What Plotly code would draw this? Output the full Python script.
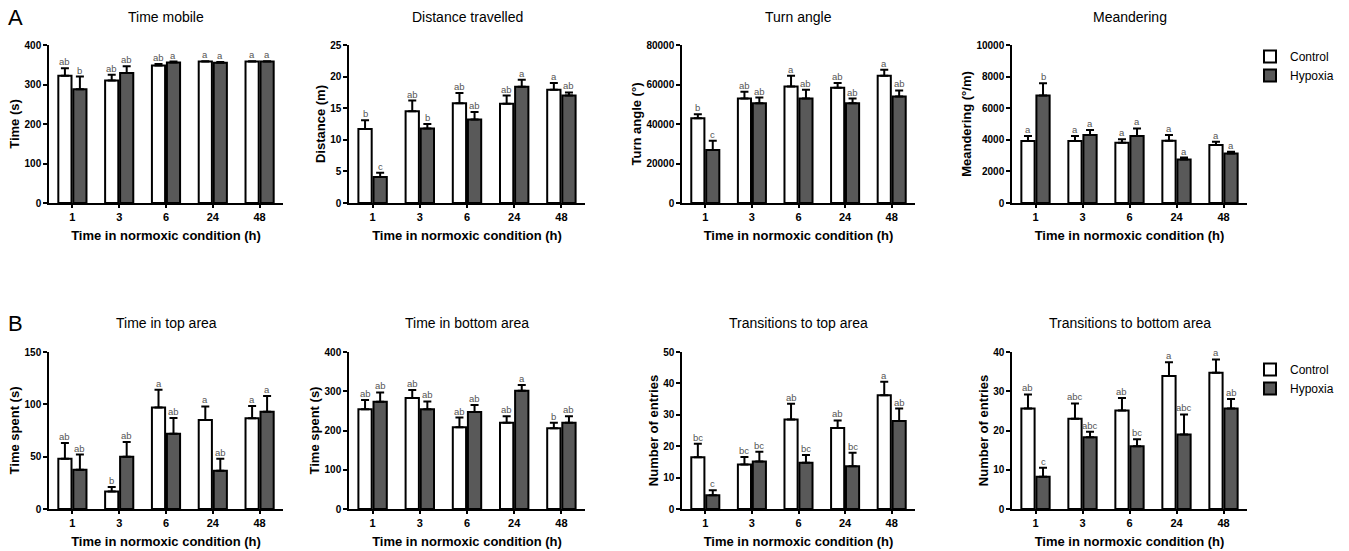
import plotly.graph_objects as go
from plotly.subplots import make_subplots

times = ["1", "3", "6", "24", "48"]
groups = ["Control", "Hypoxia"]

titles = ["Time mobile", "Distance travelled", "Turn angle", "Meandering",
          "Time in top area", "Time in bottom area", "Transitions to top area",
          "Transitions to bottom area"]
ytitles = ["Time (s)", "Distance (m)", "Turn angle (°)", "Meandering (°/m)",
           "Time spent (s)", "Time spent (s)", "Number of entries", "Number of entries"]
ymax = [400, 25, 80000, 10000, 150, 400, 50, 40]
ydtick = [100, 5, 20000, 2000, 50, 100, 10, 10]

# means and SEM (upper error) per panel
mobile_ctrl = [322, 310, 348, 358, 358]
mobile_ctrl_sem = [19, 15, 4, 1, 1]
mobile_hyp = [288, 329, 356, 355, 358]
mobile_hyp_sem = [32, 17, 2, 2, 1]

dist_ctrl = [11.7, 14.5, 15.8, 15.7, 17.9]
dist_ctrl_sem = [1.4, 1.7, 1.6, 1.3, 1.1]
dist_hyp = [4.1, 11.8, 13.2, 18.4, 17.0]
dist_hyp_sem = [0.7, 0.7, 1.2, 1.1, 0.5]

turn_ctrl = [42900, 52900, 59000, 58300, 64400]
turn_ctrl_sem = [2000, 3400, 5400, 2400, 3100]
turn_hyp = [26800, 50500, 52900, 50500, 53900]
turn_hyp_sem = [4700, 2900, 4400, 2400, 3100]

mean_ctrl = [3920, 3920, 3810, 3940, 3670]
mean_ctrl_sem = [320, 320, 220, 360, 210]
mean_hyp = [6800, 4300, 4240, 2750, 3140]
mean_hyp_sem = [780, 320, 480, 130, 100]

top_ctrl = [48, 16.8, 97, 85, 86.8]
top_ctrl_sem = [15, 4.2, 17, 13, 11.7]
top_hyp = [37.5, 50, 72, 36.5, 93]
top_hyp_sem = [14.5, 14, 15, 11.5, 15]

bot_ctrl = [254, 283, 208, 220, 206]
bot_ctrl_sem = [24, 20, 25, 16, 14]
bot_hyp = [273, 254, 247, 301, 220]
bot_hyp_sem = [24, 20, 18, 15, 16]

ttop_ctrl = [16.5, 14.2, 28.5, 25.8, 36.2]
ttop_ctrl_sem = [4.3, 2.4, 5.0, 2.4, 4.3]
ttop_hyp = [4.4, 15.1, 14.7, 13.6, 28.0]
ttop_hyp_sem = [1.6, 3.1, 2.5, 4.3, 4.0]

tbot_ctrl = [25.6, 23.0, 25.1, 33.9, 34.7]
tbot_ctrl_sem = [3.6, 3.9, 3.2, 3.5, 3.4]
tbot_hyp = [8.2, 18.3, 16.0, 19.0, 25.6]
tbot_hyp_sem = [2.3, 1.4, 1.8, 5.1, 2.4]

# significance letters
mobile_ctrl_lbl = ["ab", "ab", "ab", "a", "a"]
mobile_hyp_lbl = ["b", "ab", "a", "a", "a"]
dist_ctrl_lbl = ["b", "ab", "ab", "ab", "a"]
dist_hyp_lbl = ["c", "b", "ab", "a", "ab"]
turn_ctrl_lbl = ["b", "ab", "a", "ab", "a"]
turn_hyp_lbl = ["c", "ab", "ab", "ab", "ab"]
mean_ctrl_lbl = ["a", "a", "a", "a", "a"]
mean_hyp_lbl = ["b", "a", "a", "a", "a"]
top_ctrl_lbl = ["ab", "b", "a", "a", "a"]
top_hyp_lbl = ["ab", "ab", "ab", "ab", "a"]
bot_ctrl_lbl = ["ab", "ab", "ab", "ab", "b"]
bot_hyp_lbl = ["ab", "ab", "ab", "a", "ab"]
ttop_ctrl_lbl = ["bc", "bc", "ab", "ab", "a"]
ttop_hyp_lbl = ["c", "bc", "bc", "bc", "ab"]
tbot_ctrl_lbl = ["ab", "abc", "ab", "a", "a"]
tbot_hyp_lbl = ["c", "abc", "bc", "abc", "ab"]

panels = [
    (mobile_ctrl, mobile_ctrl_sem, mobile_ctrl_lbl, mobile_hyp, mobile_hyp_sem, mobile_hyp_lbl),
    (dist_ctrl, dist_ctrl_sem, dist_ctrl_lbl, dist_hyp, dist_hyp_sem, dist_hyp_lbl),
    (turn_ctrl, turn_ctrl_sem, turn_ctrl_lbl, turn_hyp, turn_hyp_sem, turn_hyp_lbl),
    (mean_ctrl, mean_ctrl_sem, mean_ctrl_lbl, mean_hyp, mean_hyp_sem, mean_hyp_lbl),
    (top_ctrl, top_ctrl_sem, top_ctrl_lbl, top_hyp, top_hyp_sem, top_hyp_lbl),
    (bot_ctrl, bot_ctrl_sem, bot_ctrl_lbl, bot_hyp, bot_hyp_sem, bot_hyp_lbl),
    (ttop_ctrl, ttop_ctrl_sem, ttop_ctrl_lbl, ttop_hyp, ttop_hyp_sem, ttop_hyp_lbl),
    (tbot_ctrl, tbot_ctrl_sem, tbot_ctrl_lbl, tbot_hyp, tbot_hyp_sem, tbot_hyp_lbl),
]

W, H = 1349, 551
FONT = "Liberation Sans, Arial, sans-serif"
fill_colors = ["#ffffff", "#595959"]

xdom_px = [(49, 283), (349, 585), (682, 915), (1012, 1247)]
ydom_px = [(45, 203), (352, 509)]

fig = make_subplots(rows=2, cols=4)
xidx = list(range(len(times)))
BARGAP = 0.36
half = (1 - BARGAP) / 4.0

for p, (c, cs, cl, h, hs, hl) in enumerate(panels):
    row, col = p // 4 + 1, p % 4 + 1
    for g, (vals, sems, lbls) in enumerate([(c, cs, cl), (h, hs, hl)]):
        show = (p == 3) or (p == 7)
        fig.add_trace(go.Bar(
            x=xidx, y=vals, name=groups[g],
            marker=dict(color=fill_colors[g], line=dict(color="black", width=2)),
            error_y=dict(type="data", symmetric=False, array=sems,
                         arrayminus=[0] * len(sems), color="black",
                         thickness=2, width=4),
            showlegend=show, legend=("legend" if p == 3 else "legend2"),
            hoverinfo="skip",
        ), row=row, col=col)
        axn = "" if p == 0 else str(p + 1)
        for i, (v, s, t) in enumerate(zip(vals, sems, lbls)):
            fig.add_annotation(
                x=i + (-half if g == 0 else half), y=v + s,
                xref="x" + axn, yref="y" + axn, text=t, showarrow=False,
                yanchor="bottom", yshift=-1,
                font=dict(family=FONT, size=9.5, color="#555555"))

for p in range(8):
    r, c = p // 4, p % 4
    axn = "" if p == 0 else str(p + 1)
    x0, x1 = xdom_px[c]
    y0, y1 = ydom_px[r]
    fig.layout["xaxis" + axn].update(
        domain=[x0 / W, x1 / W], range=[-0.5, 4.5], automargin=False,
        tickvals=xidx, ticktext=times, showline=True, linecolor="black",
        linewidth=1.5, ticks="outside", ticklen=3, tickwidth=1.5, tickcolor="black",
        showgrid=False, zeroline=False,
        tickfont=dict(family=FONT, size=11, color="black", weight="bold"),
        title=dict(text="Time in normoxic condition (h)", standoff=9,
                   font=dict(family=FONT, size=13, color="black", weight="bold")),
    )
    fig.layout["yaxis" + axn].update(
        domain=[1 - y1 / H, 1 - y0 / H], range=[0, ymax[p]], dtick=ydtick[p],
        automargin=False,
        tickformat="d", showline=True, linecolor="black", linewidth=1.5,
        ticks="outside", ticklen=4, tickwidth=1.5, tickcolor="black",
        showgrid=False, zeroline=False,
        tickfont=dict(family=FONT, size=10, color="black", weight="bold"),
        title=dict(text=ytitles[p], standoff=2,
                   font=dict(family=FONT, size=13, color="black", weight="bold")),
    )
    fig.add_annotation(
        x=(x0 + x1) / 2 / W, y=1 - (17 if r == 0 else 323) / H,
        xref="paper", yref="paper", text=titles[p], showarrow=False,
        xanchor="center", yanchor="middle",
        font=dict(family=FONT, size=14, color="black"))

for lab, ypx in [("A", 17), ("B", 323)]:
    fig.add_annotation(x=6 / W, y=1 - ypx / H, xref="paper", yref="paper",
                       text=lab, showarrow=False, xanchor="left", yanchor="middle",
                       font=dict(family=FONT, size=22, color="black"))

fig.update_layout(
    width=W, height=H, margin=dict(l=0, r=0, t=0, b=0, autoexpand=False),
    paper_bgcolor="white", plot_bgcolor="white",
    barmode="group", bargap=BARGAP, bargroupgap=0.12,
    font=dict(family=FONT, color="black"),
    legend=dict(x=1250 / W, y=1 - 42 / H, xanchor="left", yanchor="top",
                font=dict(family=FONT, size=12, color="black"),
                bgcolor="rgba(0,0,0,0)", tracegroupgap=0),
    legend2=dict(x=1250 / W, y=1 - 355 / H, xanchor="left", yanchor="top",
                 font=dict(family=FONT, size=12, color="black"),
                 bgcolor="rgba(0,0,0,0)", tracegroupgap=0),
)

fig.write_html("out.html", config={"displayModeBar": False},
               post_script="document.body.style.margin='0';document.body.style.overflow='hidden';")
